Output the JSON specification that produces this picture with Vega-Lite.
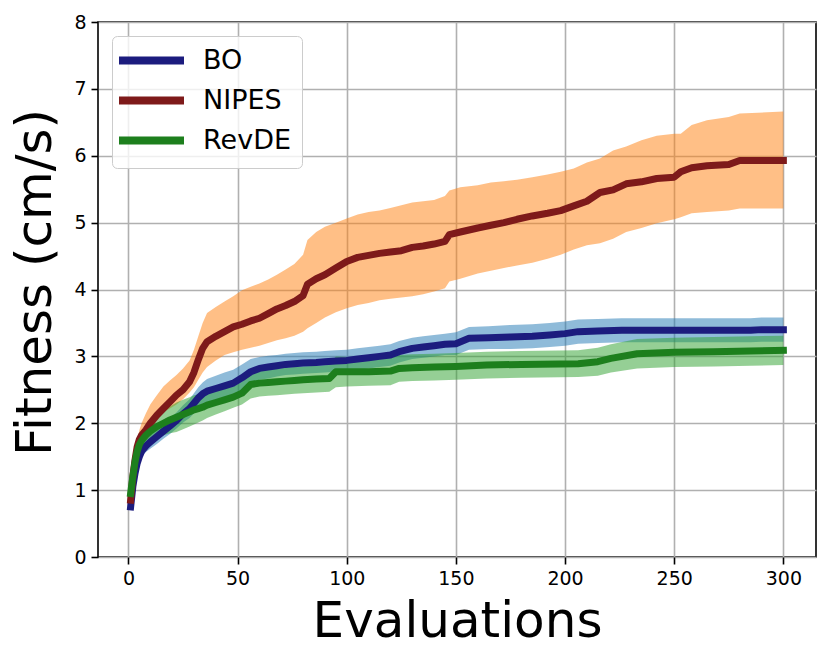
{
  "$schema": "https://vega.github.io/schema/vega-lite/v6.json",
  "width": 718,
  "height": 535,
  "autosize": {"type": "none"},
  "padding": {"left": 98, "top": 22, "right": 15, "bottom": 105},
  "config": {
    "font": "DejaVu Sans",
    "view": {"stroke": "#000000", "strokeWidth": 1.6},
    "axis": {
      "grid": true,
      "gridColor": "#b0b0b0",
      "gridWidth": 1.6,
      "domain": false,
      "tickColor": "#000000",
      "tickWidth": 1.6,
      "tickSize": 7,
      "labelFont": "DejaVu Sans",
      "labelFontSize": 19,
      "labelColor": "#000000",
      "labelPadding": 5,
      "titleFont": "DejaVu Sans",
      "titleFontSize": 50,
      "titleFontWeight": "normal",
      "titleColor": "#000000"
    },
    "legend": {
      "orient": "top-left",
      "offset": 14,
      "padding": 11,
      "fillColor": "rgba(255,255,255,0.8)",
      "strokeColor": "#cccccc",
      "cornerRadius": 5,
      "symbolType": "M-3.5,0H9.5",
      "symbolStrokeWidth": 8,
      "symbolSize": 100,
      "labelFont": "DejaVu Sans",
      "labelFontSize": 27,
      "labelColor": "#000000",
      "labelOffset": 53,
      "rowPadding": 7
    }
  },
  "data": {
    "values": [
      {"algo": "BO", "eval": 1, "mean": 0.75, "lo": 0.73, "hi": 0.77},
      {"algo": "BO", "eval": 2, "mean": 1.05, "lo": 1.01, "hi": 1.09},
      {"algo": "BO", "eval": 3, "mean": 1.25, "lo": 1.19, "hi": 1.31},
      {"algo": "BO", "eval": 4, "mean": 1.4, "lo": 1.33, "hi": 1.47},
      {"algo": "BO", "eval": 5, "mean": 1.5, "lo": 1.42, "hi": 1.58},
      {"algo": "BO", "eval": 6, "mean": 1.58, "lo": 1.49, "hi": 1.67},
      {"algo": "BO", "eval": 8, "mean": 1.66, "lo": 1.57, "hi": 1.75},
      {"algo": "BO", "eval": 10, "mean": 1.72, "lo": 1.62, "hi": 1.82},
      {"algo": "BO", "eval": 13, "mean": 1.8, "lo": 1.69, "hi": 1.91},
      {"algo": "BO", "eval": 16, "mean": 1.88, "lo": 1.77, "hi": 1.99},
      {"algo": "BO", "eval": 19, "mean": 1.96, "lo": 1.84, "hi": 2.08},
      {"algo": "BO", "eval": 22, "mean": 2.04, "lo": 1.92, "hi": 2.16},
      {"algo": "BO", "eval": 25, "mean": 2.14, "lo": 2.01, "hi": 2.27},
      {"algo": "BO", "eval": 28, "mean": 2.22, "lo": 2.08, "hi": 2.36},
      {"algo": "BO", "eval": 30, "mean": 2.3, "lo": 2.15, "hi": 2.45},
      {"algo": "BO", "eval": 32, "mean": 2.38, "lo": 2.22, "hi": 2.54},
      {"algo": "BO", "eval": 34, "mean": 2.44, "lo": 2.27, "hi": 2.61},
      {"algo": "BO", "eval": 36, "mean": 2.48, "lo": 2.3, "hi": 2.66},
      {"algo": "BO", "eval": 40, "mean": 2.52, "lo": 2.33, "hi": 2.71},
      {"algo": "BO", "eval": 44, "mean": 2.56, "lo": 2.36, "hi": 2.76},
      {"algo": "BO", "eval": 48, "mean": 2.6, "lo": 2.4, "hi": 2.8},
      {"algo": "BO", "eval": 52, "mean": 2.68, "lo": 2.48, "hi": 2.88},
      {"algo": "BO", "eval": 56, "mean": 2.77, "lo": 2.58, "hi": 2.96},
      {"algo": "BO", "eval": 60, "mean": 2.82, "lo": 2.65, "hi": 2.99},
      {"algo": "BO", "eval": 64, "mean": 2.84, "lo": 2.67, "hi": 3.01},
      {"algo": "BO", "eval": 68, "mean": 2.86, "lo": 2.7, "hi": 3.02},
      {"algo": "BO", "eval": 72, "mean": 2.88, "lo": 2.72, "hi": 3.04},
      {"algo": "BO", "eval": 76, "mean": 2.89, "lo": 2.73, "hi": 3.05},
      {"algo": "BO", "eval": 80, "mean": 2.9, "lo": 2.74, "hi": 3.06},
      {"algo": "BO", "eval": 86, "mean": 2.91, "lo": 2.75, "hi": 3.07},
      {"algo": "BO", "eval": 90, "mean": 2.92, "lo": 2.76, "hi": 3.08},
      {"algo": "BO", "eval": 95, "mean": 2.93, "lo": 2.77, "hi": 3.09},
      {"algo": "BO", "eval": 100, "mean": 2.94, "lo": 2.78, "hi": 3.1},
      {"algo": "BO", "eval": 105, "mean": 2.96, "lo": 2.8, "hi": 3.12},
      {"algo": "BO", "eval": 110, "mean": 2.98, "lo": 2.82, "hi": 3.14},
      {"algo": "BO", "eval": 115, "mean": 3.0, "lo": 2.84, "hi": 3.16},
      {"algo": "BO", "eval": 120, "mean": 3.02, "lo": 2.86, "hi": 3.18},
      {"algo": "BO", "eval": 124, "mean": 3.07, "lo": 2.91, "hi": 3.23},
      {"algo": "BO", "eval": 130, "mean": 3.12, "lo": 2.96, "hi": 3.28},
      {"algo": "BO", "eval": 135, "mean": 3.14, "lo": 2.98, "hi": 3.3},
      {"algo": "BO", "eval": 140, "mean": 3.16, "lo": 3.0, "hi": 3.32},
      {"algo": "BO", "eval": 145, "mean": 3.18, "lo": 3.02, "hi": 3.34},
      {"algo": "BO", "eval": 150, "mean": 3.19, "lo": 3.02, "hi": 3.36},
      {"algo": "BO", "eval": 156, "mean": 3.27, "lo": 3.1, "hi": 3.44},
      {"algo": "BO", "eval": 165, "mean": 3.28, "lo": 3.11, "hi": 3.45},
      {"algo": "BO", "eval": 175, "mean": 3.29, "lo": 3.11, "hi": 3.47},
      {"algo": "BO", "eval": 185, "mean": 3.3, "lo": 3.12, "hi": 3.48},
      {"algo": "BO", "eval": 193, "mean": 3.32, "lo": 3.14, "hi": 3.5},
      {"algo": "BO", "eval": 200, "mean": 3.34, "lo": 3.16, "hi": 3.52},
      {"algo": "BO", "eval": 206, "mean": 3.37, "lo": 3.19, "hi": 3.55},
      {"algo": "BO", "eval": 215, "mean": 3.38, "lo": 3.2, "hi": 3.56},
      {"algo": "BO", "eval": 226, "mean": 3.39, "lo": 3.21, "hi": 3.57},
      {"algo": "BO", "eval": 285, "mean": 3.39, "lo": 3.21, "hi": 3.57},
      {"algo": "BO", "eval": 290, "mean": 3.4, "lo": 3.22, "hi": 3.58},
      {"algo": "BO", "eval": 300, "mean": 3.4, "lo": 3.22, "hi": 3.58},

      {"algo": "NIPES", "eval": 1, "mean": 0.85, "lo": 0.85, "hi": 0.85},
      {"algo": "NIPES", "eval": 2, "mean": 1.2, "lo": 1.15, "hi": 1.25},
      {"algo": "NIPES", "eval": 3, "mean": 1.45, "lo": 1.38, "hi": 1.55},
      {"algo": "NIPES", "eval": 4, "mean": 1.65, "lo": 1.52, "hi": 1.75},
      {"algo": "NIPES", "eval": 5, "mean": 1.76, "lo": 1.62, "hi": 1.9},
      {"algo": "NIPES", "eval": 6, "mean": 1.82, "lo": 1.7, "hi": 2.0},
      {"algo": "NIPES", "eval": 8, "mean": 1.9, "lo": 1.8, "hi": 2.15},
      {"algo": "NIPES", "eval": 10, "mean": 2.0, "lo": 1.9, "hi": 2.28},
      {"algo": "NIPES", "eval": 13, "mean": 2.12, "lo": 2.05, "hi": 2.42},
      {"algo": "NIPES", "eval": 16, "mean": 2.22, "lo": 2.17, "hi": 2.55},
      {"algo": "NIPES", "eval": 19, "mean": 2.32, "lo": 2.22, "hi": 2.64},
      {"algo": "NIPES", "eval": 22, "mean": 2.42, "lo": 2.28, "hi": 2.72},
      {"algo": "NIPES", "eval": 25, "mean": 2.5, "lo": 2.36, "hi": 2.82},
      {"algo": "NIPES", "eval": 28, "mean": 2.62, "lo": 2.46, "hi": 2.94},
      {"algo": "NIPES", "eval": 30, "mean": 2.76, "lo": 2.54, "hi": 3.1},
      {"algo": "NIPES", "eval": 32, "mean": 2.95, "lo": 2.65, "hi": 3.3},
      {"algo": "NIPES", "eval": 34, "mean": 3.12, "lo": 2.76, "hi": 3.5},
      {"algo": "NIPES", "eval": 36, "mean": 3.22, "lo": 2.84, "hi": 3.65},
      {"algo": "NIPES", "eval": 40, "mean": 3.3, "lo": 2.94, "hi": 3.74},
      {"algo": "NIPES", "eval": 44, "mean": 3.37, "lo": 3.02, "hi": 3.82},
      {"algo": "NIPES", "eval": 48, "mean": 3.44, "lo": 3.06, "hi": 3.9},
      {"algo": "NIPES", "eval": 52, "mean": 3.48, "lo": 3.1, "hi": 3.99},
      {"algo": "NIPES", "eval": 56, "mean": 3.53, "lo": 3.13, "hi": 4.04},
      {"algo": "NIPES", "eval": 60, "mean": 3.57, "lo": 3.16, "hi": 4.09},
      {"algo": "NIPES", "eval": 64, "mean": 3.64, "lo": 3.2, "hi": 4.15},
      {"algo": "NIPES", "eval": 68, "mean": 3.71, "lo": 3.24, "hi": 4.22},
      {"algo": "NIPES", "eval": 72, "mean": 3.76, "lo": 3.27, "hi": 4.3},
      {"algo": "NIPES", "eval": 76, "mean": 3.82, "lo": 3.31, "hi": 4.38},
      {"algo": "NIPES", "eval": 80, "mean": 3.91, "lo": 3.37, "hi": 4.52},
      {"algo": "NIPES", "eval": 82, "mean": 4.08, "lo": 3.42, "hi": 4.74},
      {"algo": "NIPES", "eval": 86, "mean": 4.16, "lo": 3.5, "hi": 4.86},
      {"algo": "NIPES", "eval": 90, "mean": 4.22, "lo": 3.58, "hi": 4.94},
      {"algo": "NIPES", "eval": 95, "mean": 4.32, "lo": 3.66, "hi": 5.0},
      {"algo": "NIPES", "eval": 100, "mean": 4.42, "lo": 3.72, "hi": 5.06},
      {"algo": "NIPES", "eval": 105, "mean": 4.48, "lo": 3.77, "hi": 5.12},
      {"algo": "NIPES", "eval": 110, "mean": 4.51, "lo": 3.8, "hi": 5.16},
      {"algo": "NIPES", "eval": 115, "mean": 4.54, "lo": 3.84, "hi": 5.18},
      {"algo": "NIPES", "eval": 120, "mean": 4.56, "lo": 3.86, "hi": 5.22},
      {"algo": "NIPES", "eval": 125, "mean": 4.58, "lo": 3.88, "hi": 5.26},
      {"algo": "NIPES", "eval": 130, "mean": 4.63, "lo": 3.9, "hi": 5.3},
      {"algo": "NIPES", "eval": 135, "mean": 4.65, "lo": 3.93, "hi": 5.32},
      {"algo": "NIPES", "eval": 140, "mean": 4.68, "lo": 3.97, "hi": 5.34},
      {"algo": "NIPES", "eval": 145, "mean": 4.72, "lo": 4.02, "hi": 5.4},
      {"algo": "NIPES", "eval": 147, "mean": 4.82, "lo": 4.12, "hi": 5.48},
      {"algo": "NIPES", "eval": 152, "mean": 4.86, "lo": 4.16, "hi": 5.53},
      {"algo": "NIPES", "eval": 160, "mean": 4.92, "lo": 4.24, "hi": 5.56},
      {"algo": "NIPES", "eval": 166, "mean": 4.96, "lo": 4.28, "hi": 5.6},
      {"algo": "NIPES", "eval": 172, "mean": 5.0, "lo": 4.32, "hi": 5.62},
      {"algo": "NIPES", "eval": 178, "mean": 5.05, "lo": 4.36, "hi": 5.64},
      {"algo": "NIPES", "eval": 185, "mean": 5.1, "lo": 4.4, "hi": 5.68},
      {"algo": "NIPES", "eval": 192, "mean": 5.14, "lo": 4.46, "hi": 5.72},
      {"algo": "NIPES", "eval": 198, "mean": 5.18, "lo": 4.52, "hi": 5.76},
      {"algo": "NIPES", "eval": 204, "mean": 5.25, "lo": 4.6, "hi": 5.81},
      {"algo": "NIPES", "eval": 210, "mean": 5.32, "lo": 4.66, "hi": 5.9},
      {"algo": "NIPES", "eval": 216, "mean": 5.45, "lo": 4.69, "hi": 5.96},
      {"algo": "NIPES", "eval": 222, "mean": 5.49, "lo": 4.76, "hi": 6.08},
      {"algo": "NIPES", "eval": 228, "mean": 5.58, "lo": 4.86, "hi": 6.14},
      {"algo": "NIPES", "eval": 235, "mean": 5.61, "lo": 4.92, "hi": 6.23},
      {"algo": "NIPES", "eval": 242, "mean": 5.66, "lo": 4.99, "hi": 6.3},
      {"algo": "NIPES", "eval": 250, "mean": 5.68, "lo": 5.05, "hi": 6.33},
      {"algo": "NIPES", "eval": 253, "mean": 5.76, "lo": 5.08, "hi": 6.33},
      {"algo": "NIPES", "eval": 258, "mean": 5.82, "lo": 5.14, "hi": 6.46},
      {"algo": "NIPES", "eval": 265, "mean": 5.85, "lo": 5.16, "hi": 6.53},
      {"algo": "NIPES", "eval": 275, "mean": 5.87, "lo": 5.18, "hi": 6.58},
      {"algo": "NIPES", "eval": 280, "mean": 5.93, "lo": 5.21, "hi": 6.63},
      {"algo": "NIPES", "eval": 300, "mean": 5.93, "lo": 5.21, "hi": 6.66},

      {"algo": "RevDE", "eval": 1, "mean": 0.95, "lo": 0.93, "hi": 0.97},
      {"algo": "RevDE", "eval": 2, "mean": 1.2, "lo": 1.15, "hi": 1.25},
      {"algo": "RevDE", "eval": 3, "mean": 1.42, "lo": 1.35, "hi": 1.49},
      {"algo": "RevDE", "eval": 4, "mean": 1.58, "lo": 1.49, "hi": 1.67},
      {"algo": "RevDE", "eval": 5, "mean": 1.68, "lo": 1.58, "hi": 1.78},
      {"algo": "RevDE", "eval": 6, "mean": 1.74, "lo": 1.63, "hi": 1.85},
      {"algo": "RevDE", "eval": 8, "mean": 1.82, "lo": 1.7, "hi": 1.94},
      {"algo": "RevDE", "eval": 10, "mean": 1.88, "lo": 1.74, "hi": 2.02},
      {"algo": "RevDE", "eval": 13, "mean": 1.95, "lo": 1.79, "hi": 2.11},
      {"algo": "RevDE", "eval": 16, "mean": 2.0, "lo": 1.82, "hi": 2.18},
      {"algo": "RevDE", "eval": 19, "mean": 2.05, "lo": 1.85, "hi": 2.25},
      {"algo": "RevDE", "eval": 22, "mean": 2.09, "lo": 1.87, "hi": 2.31},
      {"algo": "RevDE", "eval": 25, "mean": 2.13, "lo": 1.91, "hi": 2.35},
      {"algo": "RevDE", "eval": 28, "mean": 2.17, "lo": 1.95, "hi": 2.39},
      {"algo": "RevDE", "eval": 30, "mean": 2.2, "lo": 1.98, "hi": 2.42},
      {"algo": "RevDE", "eval": 32, "mean": 2.22, "lo": 2.01, "hi": 2.43},
      {"algo": "RevDE", "eval": 34, "mean": 2.24, "lo": 2.04, "hi": 2.44},
      {"algo": "RevDE", "eval": 36, "mean": 2.27, "lo": 2.08, "hi": 2.46},
      {"algo": "RevDE", "eval": 40, "mean": 2.31, "lo": 2.13, "hi": 2.49},
      {"algo": "RevDE", "eval": 44, "mean": 2.35, "lo": 2.18, "hi": 2.52},
      {"algo": "RevDE", "eval": 48, "mean": 2.39, "lo": 2.23, "hi": 2.55},
      {"algo": "RevDE", "eval": 52, "mean": 2.45, "lo": 2.28, "hi": 2.62},
      {"algo": "RevDE", "eval": 56, "mean": 2.58, "lo": 2.37, "hi": 2.79},
      {"algo": "RevDE", "eval": 60, "mean": 2.6, "lo": 2.4, "hi": 2.8},
      {"algo": "RevDE", "eval": 64, "mean": 2.61, "lo": 2.41, "hi": 2.81},
      {"algo": "RevDE", "eval": 68, "mean": 2.62, "lo": 2.42, "hi": 2.82},
      {"algo": "RevDE", "eval": 72, "mean": 2.63, "lo": 2.43, "hi": 2.83},
      {"algo": "RevDE", "eval": 76, "mean": 2.64, "lo": 2.44, "hi": 2.84},
      {"algo": "RevDE", "eval": 80, "mean": 2.65, "lo": 2.45, "hi": 2.85},
      {"algo": "RevDE", "eval": 86, "mean": 2.66, "lo": 2.46, "hi": 2.86},
      {"algo": "RevDE", "eval": 92, "mean": 2.67, "lo": 2.47, "hi": 2.87},
      {"algo": "RevDE", "eval": 95, "mean": 2.77, "lo": 2.54, "hi": 3.0},
      {"algo": "RevDE", "eval": 100, "mean": 2.77, "lo": 2.55, "hi": 2.99},
      {"algo": "RevDE", "eval": 110, "mean": 2.77, "lo": 2.56, "hi": 2.98},
      {"algo": "RevDE", "eval": 120, "mean": 2.78, "lo": 2.57, "hi": 2.99},
      {"algo": "RevDE", "eval": 124, "mean": 2.82, "lo": 2.62, "hi": 3.02},
      {"algo": "RevDE", "eval": 130, "mean": 2.83, "lo": 2.63, "hi": 3.03},
      {"algo": "RevDE", "eval": 140, "mean": 2.84, "lo": 2.64, "hi": 3.04},
      {"algo": "RevDE", "eval": 150, "mean": 2.85, "lo": 2.65, "hi": 3.05},
      {"algo": "RevDE", "eval": 164, "mean": 2.87, "lo": 2.67, "hi": 3.07},
      {"algo": "RevDE", "eval": 180, "mean": 2.88, "lo": 2.68, "hi": 3.08},
      {"algo": "RevDE", "eval": 206, "mean": 2.89, "lo": 2.69, "hi": 3.09},
      {"algo": "RevDE", "eval": 215, "mean": 2.92, "lo": 2.71, "hi": 3.13},
      {"algo": "RevDE", "eval": 221, "mean": 2.97, "lo": 2.76, "hi": 3.18},
      {"algo": "RevDE", "eval": 233, "mean": 3.04, "lo": 2.82, "hi": 3.26},
      {"algo": "RevDE", "eval": 250, "mean": 3.06, "lo": 2.84, "hi": 3.28},
      {"algo": "RevDE", "eval": 268, "mean": 3.07, "lo": 2.85, "hi": 3.29},
      {"algo": "RevDE", "eval": 285, "mean": 3.08, "lo": 2.86, "hi": 3.3},
      {"algo": "RevDE", "eval": 300, "mean": 3.09, "lo": 2.87, "hi": 3.31}
    ]
  },
  "encoding": {
    "x": {
      "field": "eval",
      "type": "quantitative",
      "title": "Evaluations",
      "scale": {"domain": [-13.95, 314.95], "nice": false, "zero": false},
      "axis": {"values": [0, 50, 100, 150, 200, 250, 300], "format": "d", "titlePadding": 8}
    }
  },
  "layer": [
    {
      "transform": [{"filter": "datum.algo == 'BO'"}],
      "mark": {"type": "area", "color": "#1f77b4", "opacity": 0.5},
      "encoding": {
        "y": {"field": "lo", "type": "quantitative"},
        "y2": {"field": "hi"}
      }
    },
    {
      "transform": [{"filter": "datum.algo == 'NIPES'"}],
      "mark": {"type": "area", "color": "#ff7f0e", "opacity": 0.5},
      "encoding": {
        "y": {"field": "lo", "type": "quantitative"},
        "y2": {"field": "hi"}
      }
    },
    {
      "transform": [{"filter": "datum.algo == 'RevDE'"}],
      "mark": {"type": "area", "color": "#2ca02c", "opacity": 0.5},
      "encoding": {
        "y": {"field": "lo", "type": "quantitative"},
        "y2": {"field": "hi"}
      }
    },
    {
      "mark": {"type": "line", "strokeWidth": 7, "strokeCap": "square", "strokeJoin": "round"},
      "encoding": {
        "y": {
          "field": "mean",
          "type": "quantitative",
          "title": "Fitness (cm/s)",
          "scale": {"domain": [0, 8], "nice": false},
          "axis": {"values": [0, 1, 2, 3, 4, 5, 6, 7, 8], "format": "d", "titlePadding": 13, "titleY": 260}
        },
        "color": {
          "field": "algo",
          "type": "nominal",
          "scale": {"domain": ["BO", "NIPES", "RevDE"], "range": ["#1c1c7e", "#7e1a1a", "#1d7f1d"]},
          "legend": {"title": null}
        }
      }
    }
  ]
}
